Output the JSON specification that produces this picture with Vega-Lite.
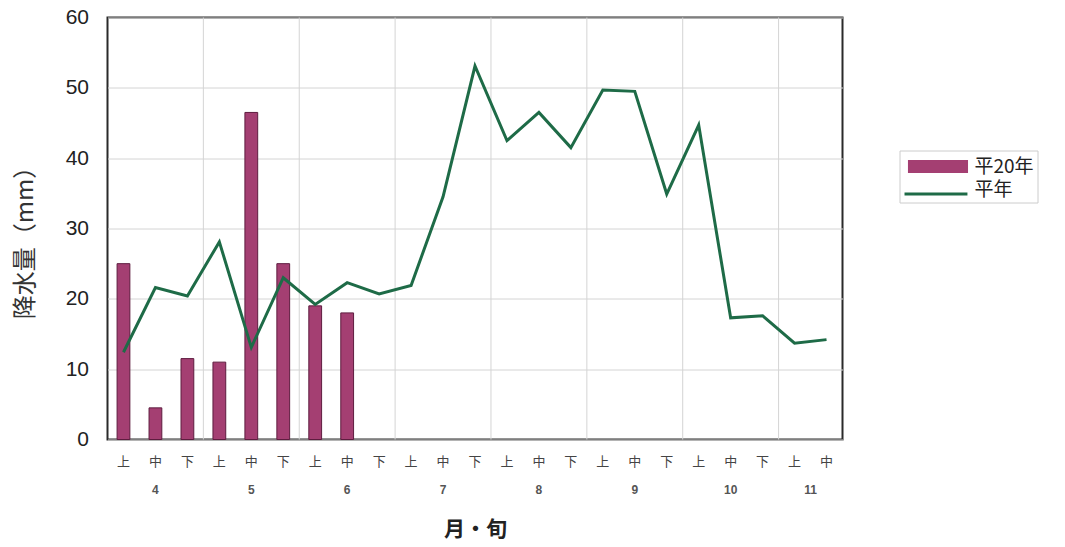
{
  "$schema": "https://vega.github.io/schema/vega-lite/v6.json",
  "width": 735,
  "height": 422,
  "autosize": "none",
  "padding": {"left": 107.5, "top": 17.5, "right": 222.5, "bottom": 107.5},
  "background": "white",
  "config": {
    "font": "Noto Sans CJK JP",
    "view": {"stroke": "#2a2a2a", "strokeWidth": 2},
    "axis": {"domain": false, "ticks": false, "tickSize": 0},
    "legend": {
      "orient": "none",
      "legendX": 792,
      "padding": 3,
      "labelFontSize": 19,
      "labelColor": "#222",
      "labelOffset": 46,
      "rowPadding": 0,
      "symbolSize": 676
    }
  },
  "data": {
    "values": [
      {"period": "4上", "series": "平20年", "value": 25.0},
      {"period": "4中", "series": "平20年", "value": 4.5},
      {"period": "4下", "series": "平20年", "value": 11.5},
      {"period": "5上", "series": "平20年", "value": 11.0},
      {"period": "5中", "series": "平20年", "value": 46.5},
      {"period": "5下", "series": "平20年", "value": 25.0},
      {"period": "6上", "series": "平20年", "value": 19.0},
      {"period": "6中", "series": "平20年", "value": 18.0},
      {"period": "4上", "series": "平年", "value": 12.4},
      {"period": "4中", "series": "平年", "value": 21.6},
      {"period": "4下", "series": "平年", "value": 20.4},
      {"period": "5上", "series": "平年", "value": 28.1},
      {"period": "5中", "series": "平年", "value": 13.1},
      {"period": "5下", "series": "平年", "value": 23.0},
      {"period": "6上", "series": "平年", "value": 19.2},
      {"period": "6中", "series": "平年", "value": 22.3},
      {"period": "6下", "series": "平年", "value": 20.7},
      {"period": "7上", "series": "平年", "value": 21.9},
      {"period": "7中", "series": "平年", "value": 34.5},
      {"period": "7下", "series": "平年", "value": 53.1},
      {"period": "8上", "series": "平年", "value": 42.5},
      {"period": "8中", "series": "平年", "value": 46.5},
      {"period": "8下", "series": "平年", "value": 41.5},
      {"period": "9上", "series": "平年", "value": 49.7},
      {"period": "9中", "series": "平年", "value": 49.5},
      {"period": "9下", "series": "平年", "value": 34.9},
      {"period": "10上", "series": "平年", "value": 44.7},
      {"period": "10中", "series": "平年", "value": 17.3},
      {"period": "10下", "series": "平年", "value": 17.6},
      {"period": "11上", "series": "平年", "value": 13.7},
      {"period": "11中", "series": "平年", "value": 14.2}
    ]
  },
  "layer": [
    {
      "transform": [
        {"filter": "datum.series === '平年' && indexof(datum.period, '上') >= 0 && datum.period !== '4上'"}
      ],
      "mark": {"type": "rule", "color": "#d4d4d4", "strokeWidth": 1},
      "encoding": {
        "x": {
          "field": "period", "type": "ordinal", "bandPosition": 0,
          "scale": {"type": "band", "paddingInner": 0, "paddingOuter": 0,
            "domain": ["4上","4中","4下","5上","5中","5下","6上","6中","6下","7上","7中","7下","8上","8中","8下","9上","9中","9下","10上","10中","10下","11上","11中"]},
          "axis": null
        }
      }
    },
    {
      "transform": [{"filter": "datum.series === '平20年'"}],
      "mark": {"type": "bar", "width": {"band": 0.4}, "stroke": "#5e1c3f", "strokeWidth": 1},
      "encoding": {
        "x": {
          "field": "period", "type": "ordinal",
          "scale": {"type": "band", "paddingInner": 0, "paddingOuter": 0,
            "domain": ["4上","4中","4下","5上","5中","5下","6上","6中","6下","7上","7中","7下","8上","8中","8下","9上","9中","9下","10上","10中","10下","11上","11中"]},
          "axis": {
            "orient": "bottom",
            "labelExpr": "slice(datum.value, -1)",
            "labelAngle": 0,
            "labelFontSize": 13,
            "labelColor": "#444",
            "labelBaseline": "middle",
            "labelPadding": 22,
            "grid": false,
            "title": "月・旬",
            "titleFontSize": 21,
            "titleFontWeight": "bold",
            "titleColor": "#222",
            "titleBaseline": "middle",
            "titleY": 90
          }
        },
        "y": {
          "field": "value", "type": "quantitative",
          "scale": {"domain": [0, 60], "nice": false},
          "axis": {
            "values": [0, 10, 20, 30, 40, 50, 60],
            "grid": true,
            "gridColor": "#d4d4d4",
            "labelFont": "Liberation Sans",
            "labelFontSize": 21,
            "labelColor": "#222",
            "labelPadding": 19,
            "title": "降水量（mm）",
            "titleFontSize": 24,
            "titleFontWeight": "normal",
            "titleColor": "#333",
            "titleAngle": -90,
            "titleBaseline": "middle",
            "titleAlign": "center",
            "titleX": -82,
            "titleY": 219
          }
        },
        "fill": {
          "field": "series", "type": "nominal",
          "scale": {"domain": ["平20年", "平年"], "range": ["#a43f72", "transparent"]},
          "legend": {
            "title": null,
            "legendY": 133,
            "strokeColor": "#cccccc",
            "fillColor": "white",
            "symbolType": "M-0.58,-0.5H4.04V0.5H-0.58Z",
            "symbolStrokeWidth": 0
          }
        }
      }
    },
    {
      "transform": [{"filter": "datum.series === '平年'"}],
      "mark": {"type": "line", "strokeWidth": 3},
      "encoding": {
        "x": {
          "field": "period", "type": "ordinal",
          "scale": {"type": "band", "paddingInner": 0, "paddingOuter": 0,
            "domain": ["4上","4中","4下","5上","5中","5下","6上","6中","6下","7上","7中","7下","8上","8中","8下","9上","9中","9下","10上","10中","10下","11上","11中"]},
          "axis": {
            "orient": "bottom",
            "values": ["4中", "5中", "6中", "7中", "8中", "9中", "10中", "11中"],
            "labelExpr": "slice(datum.value, 0, -1)",
            "labelAngle": 0,
            "labelFont": "Liberation Sans",
            "labelFontSize": 12,
            "labelFontWeight": "bold",
            "labelColor": "#555",
            "labelBaseline": "middle",
            "labelPadding": 50,
            "labelOffset": {"expr": "datum.value === '11中' ? -16 : 0"},
            "grid": false,
            "title": null
          }
        },
        "y": {"field": "value", "type": "quantitative"},
        "stroke": {
          "field": "series", "type": "nominal",
          "scale": {"domain": ["平年", "平20年"], "range": ["#1e6b47", "transparent"]},
          "legend": {
            "title": null,
            "legendY": 159,
            "strokeColor": "transparent",
            "fillColor": "transparent",
            "labelExpr": "''",
            "symbolType": "M-0.96,0H3.88",
            "symbolStrokeWidth": 3,
            "symbolFillColor": "transparent"
          }
        }
      }
    }
  ],
  "resolve": {"axis": {"x": "independent"}}
}
